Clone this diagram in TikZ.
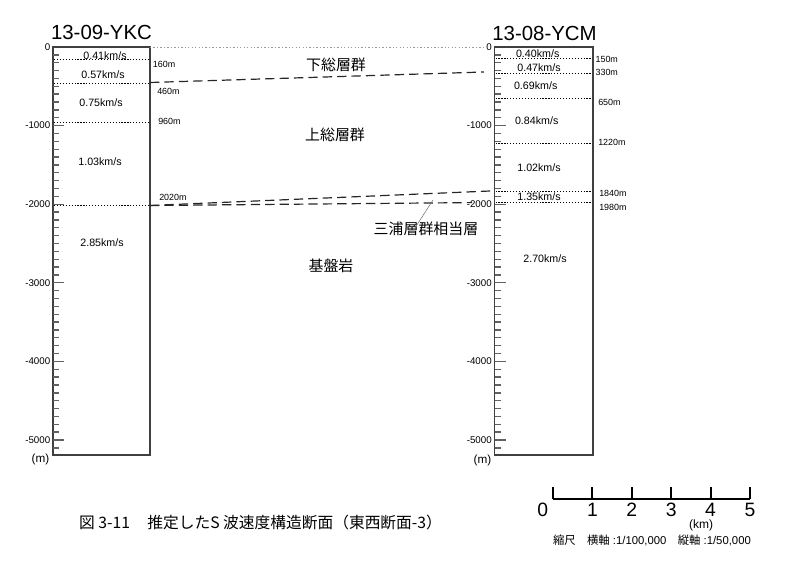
\documentclass[tikz,border=0pt]{standalone}
\usepackage{fontspec}
\setmainfont{Liberation Sans}
\newfontfamily\cjk{Noto Sans CJK JP}

\begin{document}
\begin{tikzpicture}[x=0.75pt,y=0.75pt,yscale=-1,xscale=1,
    boreframe/.style={draw=black!75,line width=1.2pt},
    tickmark/.style={draw=black!62,line width=1pt},
    layerline/.style={draw=black,line width=0.55pt,dash pattern=on 0.9pt off 1.3pt},
    horizon/.style={draw=black!85,line width=0.9pt,dash pattern=on 7pt off 3.8pt},
    surfline/.style={draw=black!40,line width=0.5pt,dash pattern=on 1pt off 1.6pt},
    leader/.style={draw=black!55,line width=0.4pt},
    velo/.style={inner sep=0pt,font=\fontsize{8}{9}\selectfont},
    depthm/.style={inner sep=0pt,anchor=west,font=\fontsize{6.7}{8}\selectfont},
    axnum/.style={inner sep=0pt,anchor=east,font=\fontsize{7.3}{8}\selectfont},
    axunit/.style={inner sep=0pt,font=\fontsize{8.8}{10}\selectfont},
    wellname/.style={inner sep=0pt,font=\fontsize{15.3}{18}\selectfont},
    unitname/.style={inner sep=0pt,font=\cjk\fontsize{11.2}{13}\selectfont},
    scalenum/.style={inner sep=0pt,font=\fontsize{14.5}{17}\selectfont}
  ]
    \useasboundingbox (0,0) rectangle (786,573);

    %Shape: Rectangle (borehole frames)
    \draw[boreframe] (53,47) rectangle (150,455);
    \draw[boreframe] (494.5,47) rectangle (593,455);

    % depth ticks: 100 m minor, 1000 m major
    \foreach \bx in {53,494.5}{
      \foreach \d in {1,...,51}
        \draw[tickmark] (\bx,{47+7.86*\d}) -- ++(6,0);
      \foreach \k in {1,...,5}
        \draw[tickmark] (\bx,{47+78.6*\k}) -- ++(11,0);
    }

    % depth axis numbers
    \foreach \k/\lab in {0/0,1/-1000,2/-2000,3/-3000,4/-4000,5/-5000}{
      \node[axnum] (ykcAx\k) at (50.5,{47+78.6*\k}) {\lab};
      \node[axnum] (ycmAx\k) at (492,{47+78.6*\k}) {\lab};
    }
    \node[axunit] (ykcUnit) at (40.5,459.5) {(m)};
    \node[axunit] (ycmUnit) at (482.5,460) {(m)};

    % Text Node: borehole names
    \node[wellname] (ykcName) at (101.5,32.5) {13-09-YKC};
    \node[wellname] (ycmName) at (544.5,33.5) {13-08-YCM};

    % layer boundaries inside the boreholes
    \foreach \y in {59.6,83.2,122.5,205.8}
      \draw[layerline] (54,\y) -- (149,\y);
    \foreach \y in {58.8,72.9,98.1,142.9,191.6,202.6}
      \draw[layerline] (495.5,\y) -- (592,\y);

    % Text Node: velocities 13-09-YKC
    \node[velo] (ykcV1) at (105,55.5) {0.41km/s};
    \node[velo] (ykcV2) at (103,74.3) {0.57km/s};
    \node[velo] (ykcV3) at (101,102.3) {0.75km/s};
    \node[velo] (ykcV4) at (100,161.5) {1.03km/s};
    \node[velo] (ykcV5) at (102,243) {2.85km/s};

    % Text Node: velocities 13-08-YCM
    \node[velo] (ycmV1) at (537.7,53.3) {0.40km/s};
    \node[velo] (ycmV2) at (539,67.7) {0.47km/s};
    \node[velo] (ycmV3) at (535.7,85.7) {0.69km/s};
    \node[velo] (ycmV4) at (536.7,121) {0.84km/s};
    \node[velo] (ycmV5) at (539,167.7) {1.02km/s};
    \node[velo] (ycmV6) at (539,196.7) {1.35km/s};
    \node[velo] (ycmV7) at (545,258.3) {2.70km/s};

    % Text Node: boundary depths
    \node[depthm] (ykcD1) at (152.7,64.3) {160m};
    \node[depthm] (ykcD2) at (157,91) {460m};
    \node[depthm] (ykcD3) at (158,121.7) {960m};
    \node[depthm] (ykcD4) at (159,197.3) {2020m};
    \node[depthm] (ycmD1) at (595.3,59) {150m};
    \node[depthm] (ycmD2) at (595.3,72.7) {330m};
    \node[depthm] (ycmD3) at (598,102.3) {650m};
    \node[depthm] (ycmD4) at (598,142.7) {1220m};
    \node[depthm] (ycmD5) at (599,193.3) {1840m};
    \node[depthm] (ycmD6) at (599,207.7) {1980m};

    % correlation lines between the boreholes
    \coordinate (ykcTop) at (150,47.5);
    \coordinate (ycmTop) at (483,47.5);
    \coordinate (ykcB460) at (150,82.5);
    \coordinate (ycmB330) at (484,72);
    \coordinate (ykcB2020) at (150,205.5);
    \coordinate (ycmB1840) at (490,191);
    \coordinate (ycmB1980) at (472,202.6);
    \draw[surfline] (ykcTop) -- (ycmTop);
    \draw[horizon] (ykcB460) -- (ycmB330);
    \draw[horizon] (ykcB2020) -- (ycmB1840);
    \draw[horizon] (ykcB2020) -- (ycmB1980);

    % Text Node: geological units
    \node[unitname] (shimosa) at (336,65) {下総層群};
    \node[unitname] (kazusa) at (335,135) {上総層群};
    \node[unitname] (miura) at (426,229) {三浦層群相当層};
    \node[unitname] (kiban) at (331,266) {基盤岩};
    \coordinate (miuraTip) at (433,200);
    \draw[leader] ([xshift=-7.5pt,yshift=3.4pt]miura.north) -- (miuraTip);

    % scale bar
    \draw[line width=2.2pt] (553,499) -- (750,499);
    \foreach \i in {0,...,5}
      \draw[line width=1.6pt] ({553+39.4*\i},499) -- ++(0,-11.5);
    \node[scalenum] (km0) at (542.7,509.5) {0};
    \foreach \i in {1,...,5}
      \node[scalenum] (km\i) at ({553+39.4*\i},509.5) {\i};
    \node[inner sep=0pt,font=\fontsize{9}{10}\selectfont] (kmUnit) at (701,525) {(km)};
    \node[inner sep=0pt,font=\fontsize{8.5}{10}\selectfont] (scaleNote) at (652,540.5)
      {{\cjk 縮尺}\hspace{1em}{\cjk 横軸} :1/100,000\hspace{1em}{\cjk 縦軸} :1/50,000};

    % Text Node: caption
    \node[inner sep=0pt,font=\cjk\fontsize{11.8}{14}\selectfont] (figCaption) at (260.5,522.5)
      {図 3-11\hspace{1.1em}推定したS 波速度構造断面（東西断面-3）};

\end{tikzpicture}
\end{document}
